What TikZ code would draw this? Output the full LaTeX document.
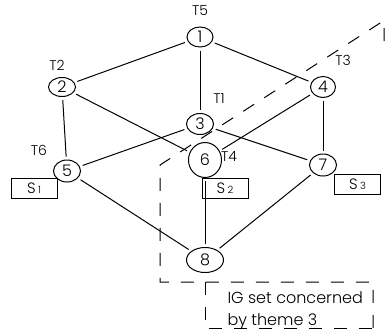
\documentclass[tikz,border=0pt]{standalone}
\usepackage{fontspec}
\setmainfont{Poppins}[UprightFont=* Light]
\usetikzlibrary{shapes.geometric}
\begin{document}
\begin{tikzpicture}[x=1pt,y=-1pt,line width=1pt,
  vtx/.style 2 args={draw,ellipse,inner sep=0pt,minimum width=#1pt,minimum height=#2pt,font=\fontsize{16}{16}\selectfont},
  tlab/.style={font=\fontsize{14}{14}\selectfont,inner sep=0pt},
  sbox/.style={draw,rectangle,inner sep=0pt,minimum width=46pt,minimum height=20pt,font=\fontsize{15}{15}\selectfont},
  edge/.style={shorten >=3pt,shorten <=3pt},
  zone/.style={dash pattern=on 13pt off 12pt},
  note/.style={font=\fontsize{16}{16}\selectfont,inner sep=0pt,anchor=base west}]
\useasboundingbox (0,0) rectangle (387,333);
% nodes
\node[vtx={26}{20}] (n1) at (200,37) {1};
\node[vtx={27}{19}] (n2) at (62,87) {2};
\node[vtx={27}{21}] (n3) at (200,124) {3};
\node[vtx={25}{21}] (n4) at (323,87) {4};
\node[vtx={27}{22}] (n5) at (67,171) {5};
\node[vtx={33}{35}] (n6) at (205,160) {6};
\node[vtx={27}{22}] (n7) at (323,165) {7};
\node[vtx={37}{25}] (n8) at (205,260) {8};
% labels
\node[tlab] (t5) at (200,10) {T5};
\node[tlab] (t2) at (57,65) {T2};
\node[tlab] (t3) at (343,60) {T3};
\node[tlab] (t1) at (219,98) {T1};
\node[tlab] (t6) at (39,150) {T6};
\node[tlab] (t4) at (229,157) {T4};
% S boxes
\node[sbox] (s1) at (34,188) {S\,{\fontsize{10}{10}\selectfont 1}};
\node[sbox] (s2) at (225,188) {S\,{\fontsize{10}{10}\selectfont 2}};
\node[sbox] (s3) at (357.5,184) {S\,{\fontsize{10}{10}\selectfont 3}};
% edges
\draw[edge] (n1) -- (n2);
\draw[edge] (n1) -- (n3);
\draw[edge] (n1) -- (n4);
\draw[edge] (n2) -- (n5);
\draw[edge] (n2) -- (n6);
\draw[edge] (n3) -- (n5);
\draw[edge] (n3) -- (n7);
\draw[edge] (n4) -- (n6);
\draw[edge] (n4) -- (n7);
\draw[edge] (n5) -- (n8);
\draw[edge] (n6) -- (n8);
\draw[edge] (n7) -- (n8);
% dashed zone
\coordinate (z1) at (384,41);
\coordinate (z2) at (384,20.5);
\coordinate (z3) at (160,165);
\coordinate (z4) at (160,282);
\coordinate (z5) at (373,282);
\coordinate (z6) at (373,336);
\coordinate (b1) at (205,282);
\coordinate (b2) at (205,328);
\coordinate (b3) at (373,328);
\draw[zone] (z1) -- (z2) -- (z3) -- (z4) -- (z5) -- (z6);
\draw[zone] (b1) -- (b2) -- (b3);
\node[note] (txt1) at (227,303) {IG set concerned};
\node[note] (txt2) at (227,325) {by theme 3};
\end{tikzpicture}
\end{document}
